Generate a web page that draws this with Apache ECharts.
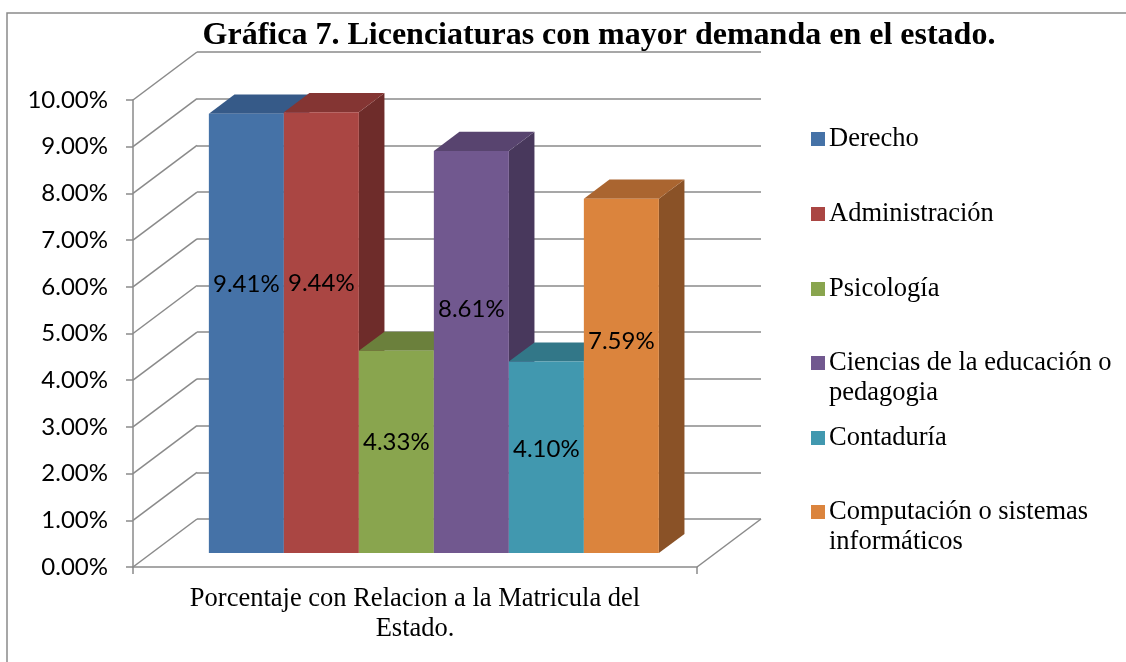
<!DOCTYPE html>
<html>
<head>
<meta charset="utf-8">
<script src="https://cdn.jsdelivr.net/npm/echarts@6/dist/echarts.min.js"></script>
<style>html,body{margin:0;padding:0;background:#fff;}#c{width:1126px;height:662px;}</style>
</head>
<body>
<div id="c"></div>
<script>
// ---- data ----
const categories = ['Porcentaje con Relacion a la Matricula del\nEstado.'];
const seriesNames = ['Derecho', 'Administración', 'Psicología', 'Ciencias de la educación o\npedagogia', 'Contaduría', 'Computación o sistemas\ninformáticos'];
const seriesValues = [0.0941, 0.0944, 0.0433, 0.0861, 0.0410, 0.0759];
const yTicks = [0, 0.01, 0.02, 0.03, 0.04, 0.05, 0.06, 0.07, 0.08, 0.09, 0.10];
const titleText = 'Gráfica 7. Licenciaturas con mayor demanda en el estado.';

// ---- styles / layout ----
const frontColors = ['#4572A7', '#AA4643', '#89A54E', '#71588F', '#4198AF', '#DB843D'];
const topColors   = ['#365A88', '#843533', '#6B803C', '#58446F', '#327788', '#AA6530'];
const sideColors  = ['#2C4A70', '#6E2C2A', '#576832', '#48385C', '#295F6E', '#8A5227'];
const GRID = {left: 133, top: 100, width: 564, height: 467};
const DEPTH = [64, -48];          // front plane -> back wall
const F1 = 0.29, F2 = 0.69;       // bar front/back depth fractions
const XMIN = -0.764, XMAX = 6.756;
const gridColor = '#8a8a8a';
const sansFont = 'Lato';
const serifFont = '"Liberation Serif", "Times New Roman", serif';

function barRender(i) {
  return function (params, api) {
    const x0 = api.value(0), v = api.value(1);
    const bl = api.coord([x0, 0]);
    const tr = api.coord([x0 + 1, v]);
    const d1 = [DEPTH[0] * F1, DEPTH[1] * F1];
    const d2 = [DEPTH[0] * F2, DEPTH[1] * F2];
    const L = bl[0] + d1[0], R = tr[0] + d1[0], T = tr[1] + d1[1], B = bl[1] + d1[1];
    const ddx = d2[0] - d1[0], ddy = d2[1] - d1[1];
    const labV = 0.668 * v - 0.00525;
    const ly = api.coord([x0, labV])[1] + d1[1];
    return {
      type: 'group',
      children: [
        {type: 'polygon', shape: {points: [[R, T], [R + ddx, T + ddy], [R + ddx, B + ddy], [R, B]]}, style: {fill: sideColors[i]}},
        {type: 'polygon', shape: {points: [[L, T], [R, T], [R + ddx, T + ddy], [L + ddx, T + ddy]]}, style: {fill: topColors[i]}},
        {type: 'rect', shape: {x: L, y: T, width: R - L, height: B - T}, style: {fill: frontColors[i]}},
        {type: 'text', z2: 10, style: {text: (v * 100).toFixed(2) + '%', x: (L + R) / 2, y: ly, align: 'center', verticalAlign: 'middle', fill: '#000', font: '24px ' + sansFont}}
      ]
    };
  };
}

function wallRender(params, api) {
  const v = api.value(1);
  const p = api.coord([XMIN, v]);
  const children = [{type: 'line', shape: {x1: p[0], y1: p[1], x2: p[0] + DEPTH[0], y2: p[1] + DEPTH[1]}, style: {stroke: gridColor, lineWidth: 1.5}}];
  if (v === 0) {
    const q = api.coord([XMAX, 0]);
    children.push({type: 'line', shape: {x1: q[0], y1: q[1], x2: q[0] + DEPTH[0], y2: q[1] + DEPTH[1]}, style: {stroke: gridColor, lineWidth: 1.5}});
  }
  return {type: 'group', children: children};
}

const series = [{
  type: 'custom', name: '_walls', xAxisIndex: 1, yAxisIndex: 0, z: 1, clip: false, silent: true,
  data: yTicks.map(t => [XMIN, t]), renderItem: wallRender
}];
seriesNames.forEach((n, i) => {
  series.push({
    type: 'custom', name: n, xAxisIndex: 1, yAxisIndex: 0, z: 2, clip: false,
    itemStyle: {color: frontColors[i]},
    data: [[i, seriesValues[i]]], renderItem: barRender(i)
  });
});

const legendCenters = [139, 214, 289, 363, 438, 512];
const LH = 30;
const legends = seriesNames.map((n, i) => {
  const twoLine = n.indexOf('\n') >= 0;
  const txtH = twoLine ? LH * 3 : LH;
  return {
    data: [{name: n, icon: 'rect'}], orient: 'vertical', left: 811, top: legendCenters[i] - txtH / 2,
    itemWidth: 14, itemHeight: 14, itemGap: 0, padding: 0, selectedMode: false,
    formatter: function (name) { return name.indexOf('\n') >= 0 ? '\n' + name : name; },
    textStyle: {fontFamily: serifFont, fontSize: 26.5, color: '#000', lineHeight: LH, padding: [0, 0, 0, -1]}
  };
});

const chart = echarts.init(document.getElementById('c'), null, {renderer: 'canvas'});
chart.setOption({
  backgroundColor: '#fff',
  animation: false,
  title: {text: titleText, left: 594, textAlign: 'center', top: 15, textStyle: {fontFamily: serifFont, fontWeight: 'bold', fontSize: 32, color: '#000'}},
  legend: legends,
  grid: [
    {left: GRID.left, top: GRID.top, width: GRID.width, height: GRID.height},
    {left: GRID.left + DEPTH[0], top: GRID.top + DEPTH[1], width: GRID.width, height: GRID.height}
  ],
  xAxis: [
    {type: 'category', gridIndex: 0, data: categories, boundaryGap: true,
     axisLine: {onZero: false, lineStyle: {color: gridColor, width: 1.5}},
     axisTick: {show: true, length: 7, lineStyle: {color: gridColor, width: 1.5}},
     axisLabel: {margin: 17, fontFamily: serifFont, fontSize: 26.5, color: '#000', lineHeight: 30}},
    {type: 'value', gridIndex: 0, min: XMIN, max: XMAX, show: false},
    {type: 'value', gridIndex: 1, min: XMIN, max: XMAX, show: false}
  ],
  yAxis: [
    {type: 'value', gridIndex: 0, min: 0, max: 0.1, interval: 0.01,
     axisLine: {show: true, onZero: false, lineStyle: {color: gridColor, width: 1.5}},
     axisTick: {show: true, length: 7, lineStyle: {color: gridColor, width: 1.5}},
     splitLine: {show: false},
     axisLabel: {margin: 25, fontFamily: sansFont, fontSize: 24, color: '#000', formatter: v => (v * 100).toFixed(2) + '%'}},
    {type: 'value', gridIndex: 1, min: 0, max: 0.1, interval: 0.01,
     axisLine: {show: false, onZero: false}, axisTick: {show: false}, axisLabel: {show: false},
     splitLine: {show: true, lineStyle: {color: gridColor, width: 1.5}}}
  ],
  graphic: [{type: 'rect', shape: {x: 7, y: 13, width: 1200, height: 700}, style: {fill: 'none', stroke: gridColor, lineWidth: 1.5}, z: 100, silent: true}],
  series: series
});
</script>
</body>
</html>
